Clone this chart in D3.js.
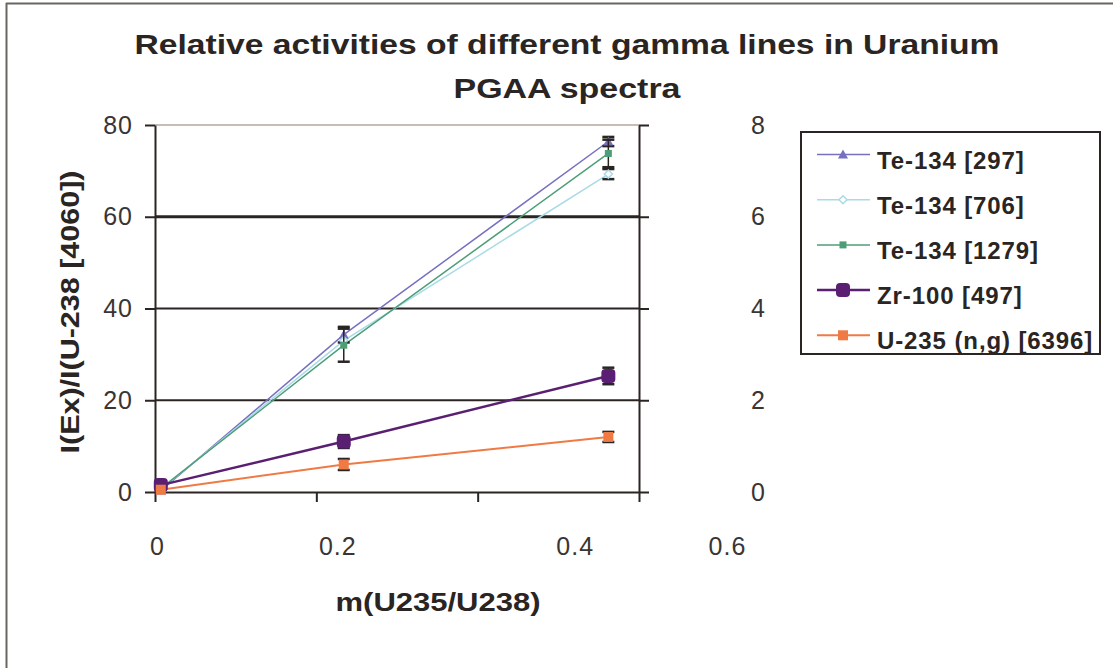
<!DOCTYPE html>
<html><head><meta charset="utf-8">
<script src="https://cdn.jsdelivr.net/npm/d3@7"></script>
<style>body{margin:0;background:#fff}svg{display:block}</style>
</head><body><svg id="c" width="1113" height="668"></svg>
<script>
const xValues = [0.0072, 0.234, 0.562];
const seriesNames = ["Te-134 [297]", "Te-134 [706]", "Te-134 [1279]", "Zr-100 [497]", "U-235 (n,g) [6396]"];
const te297 = [0.3, 34.3, 76.4];
const te706 = [0.6, 33.0, 69.3];
const te1279 = [0.8, 32.0, 73.8];
const zr100 = [1.5, 11.0, 25.3];
const u235 = [0.5, 6.0, 12.0];
const te297Err = [0, 1.7, 1.0];
const te706Err = [0, 0, 1.1];
const te1279Err = [0, 3.6, 3.0];
const zr100Err = [0, 1.4, 1.8];
const u235Err = [0, 1.2, 1.1];
const xTicks = [0, 0.2, 0.4, 0.6];
const yTicks = [0, 20, 40, 60, 80];
const y2Ticks = [0, 2, 4, 6, 8];
const titleLines = ["Relative activities of different gamma lines in Uranium", "PGAA spectra"];

const series = [
  {name: seriesNames[0], y: te297, e: te297Err, color: "#7770c0", marker: "triangle", w: 1.5},
  {name: seriesNames[1], y: te706, e: te706Err, color: "#a9dbe6", marker: "diamond", w: 1.5},
  {name: seriesNames[2], y: te1279, e: te1279Err, color: "#4d9e78", marker: "square", w: 1.5},
  {name: seriesNames[3], y: zr100, e: zr100Err, color: "#5a1f72", marker: "circle", w: 2.5},
  {name: seriesNames[4], y: u235, e: u235Err, color: "#ef7a44", marker: "bigsquare", w: 2}
];

const svg = d3.select("#c");
const font = "'Liberation Sans', Arial, sans-serif";
const ink = "#2a2522";
const L = 155, R = 639, T = 125, B = 492;
const x = d3.scaleLinear().domain([0, 0.6]).range([L, R]);
const y = d3.scaleLinear().domain([0, 80]).range([B, T]);
const y2 = d3.scaleLinear().domain([0, 8]).range([B, T]);
// the scanned chart spreads the x tick labels wider than the ticks themselves
const xLabelShift = [2, 21, 97, 88];

// outer frame (top and left)
svg.append("line").attr("x1", 6).attr("x2", 1113).attr("y1", 3.5).attr("y2", 3.5).attr("stroke", "#6b6560").attr("stroke-width", 2);
svg.append("line").attr("x1", 6.5).attr("x2", 6.5).attr("y1", 3).attr("y2", 668).attr("stroke", "#6b6560").attr("stroke-width", 2);

// title
const titleWidths = [865, 227];
svg.append("g").selectAll("text").data(titleLines).join("text")
  .attr("x", 567).attr("y", (d, i) => 54 + i * 44)
  .attr("text-anchor", "middle").attr("font-family", font).attr("font-weight", "bold")
  .attr("font-size", 28).attr("fill", ink)
  .attr("textLength", (d, i) => titleWidths[i]).attr("lengthAdjust", "spacingAndGlyphs")
  .text(d => d);

// gridlines
svg.append("g").selectAll("line").data(yTicks.filter(v => v > 0)).join("line")
  .attr("x1", L).attr("x2", R).attr("y1", d => y(d)).attr("y2", d => y(d))
  .attr("stroke", d => d === 80 ? "#c9bcb4" : ink)
  .attr("stroke-width", d => d === 60 ? 3 : 2);

// left axis
const gl = svg.append("g").attr("transform", `translate(${L},0)`)
  .call(d3.axisLeft(y).tickValues(yTicks).tickSize(10).tickPadding(12).tickSizeOuter(0));
// right axis
const gr = svg.append("g").attr("transform", `translate(${R},0)`)
  .call(d3.axisRight(y2).tickValues(y2Ticks).tickSize(10).tickPadding(102).tickSizeOuter(0));
// bottom axis
const gb = svg.append("g").attr("transform", `translate(0,${B})`)
  .call(d3.axisBottom(x).tickValues(xTicks).tickFormat(d3.format("")).tickSize(10).tickPadding(35).tickSizeOuter(0));
[gl, gr, gb].forEach(g => {
  g.select(".domain").attr("stroke", ink).attr("stroke-width", 2);
  g.selectAll(".tick line").attr("stroke", ink).attr("stroke-width", 2);
  g.selectAll(".tick text").attr("font-family", font).attr("font-size", 25).attr("fill", "#3a3532").attr("letter-spacing", 1);
});
gb.selectAll(".tick text").attr("dx", (d, i) => xLabelShift[i]);

// axis titles
svg.append("text").attr("transform", "translate(79,312) rotate(-90)").attr("text-anchor", "middle")
  .attr("font-family", font).attr("font-weight", "bold").attr("font-size", 26).attr("fill", ink)
  .attr("textLength", 283).attr("lengthAdjust", "spacingAndGlyphs")
  .text("I(Ex)/I(U-238 [4060])");
svg.append("text").attr("x", 438).attr("y", 611).attr("text-anchor", "middle")
  .attr("font-family", font).attr("font-weight", "bold").attr("font-size", 26).attr("fill", ink)
  .attr("textLength", 205).attr("lengthAdjust", "spacingAndGlyphs")
  .text("m(U235/U238)");

function drawMarker(g, m, cx, cy, color) {
  if (m === "triangle") g.append("path").attr("d", `M${cx},${cy-5}L${cx+5},${cy+4}L${cx-5},${cy+4}Z`).attr("fill", color);
  else if (m === "diamond") g.append("path").attr("d", `M${cx},${cy-4}L${cx+4},${cy}L${cx},${cy+4}L${cx-4},${cy}Z`).attr("fill", "#fff").attr("stroke", color).attr("stroke-width", 1.5);
  else if (m === "square") g.append("rect").attr("x", cx-3.5).attr("y", cy-3.5).attr("width", 7).attr("height", 7).attr("fill", color);
  else if (m === "circle") g.append("rect").attr("x", cx-7).attr("y", cy-7).attr("width", 14).attr("height", 14).attr("rx", 4).attr("fill", color);
  else if (m === "bigsquare") g.append("rect").attr("x", cx-5).attr("y", cy-5).attr("width", 10).attr("height", 10).attr("fill", color);
}

const line = d3.line().x(d => x(d[0])).y(d => y(d[1]));
const plot = svg.append("g");
series.forEach(s => {
  const pts = xValues.map((xv, i) => [xv, s.y[i]]);
  plot.append("path").attr("d", line(pts)).attr("fill", "none").attr("stroke", s.color).attr("stroke-width", s.w);
});
series.forEach(s => {
  xValues.forEach((xv, i) => {
    const g = plot.append("g");
    if (s.e[i] > 0) {
      const cx = x(xv), y1 = y(s.y[i] + s.e[i]), y0 = y(s.y[i] - s.e[i]);
      g.append("line").attr("x1", cx).attr("x2", cx).attr("y1", y1).attr("y2", y0).attr("stroke", ink).attr("stroke-width", 1.5);
      [y1, y0].forEach(yy => g.append("line").attr("x1", cx-6).attr("x2", cx+6).attr("y1", yy).attr("y2", yy).attr("stroke", ink).attr("stroke-width", 2.5));
    }
    drawMarker(g, s.marker, x(xv), y(s.y[i]), s.color);
  });
});

// legend
const lg = svg.append("g");
lg.append("rect").attr("x", 801).attr("y", 132).attr("width", 299).attr("height", 222)
  .attr("fill", "#fff").attr("stroke", ink).attr("stroke-width", 2);
series.forEach((s, i) => {
  const yy = 154.5 + i * 45.2;
  lg.append("line").attr("x1", 817).attr("x2", 870).attr("y1", yy).attr("y2", yy).attr("stroke", s.color).attr("stroke-width", s.w);
  drawMarker(lg, s.marker, 843, yy, s.color);
  lg.append("text").attr("x", 877).attr("y", yy + 14).attr("font-family", font).attr("font-weight", "bold")
    .attr("font-size", 24).attr("letter-spacing", 0.9).attr("fill", ink).text(s.name);
});
</script></body></html>
